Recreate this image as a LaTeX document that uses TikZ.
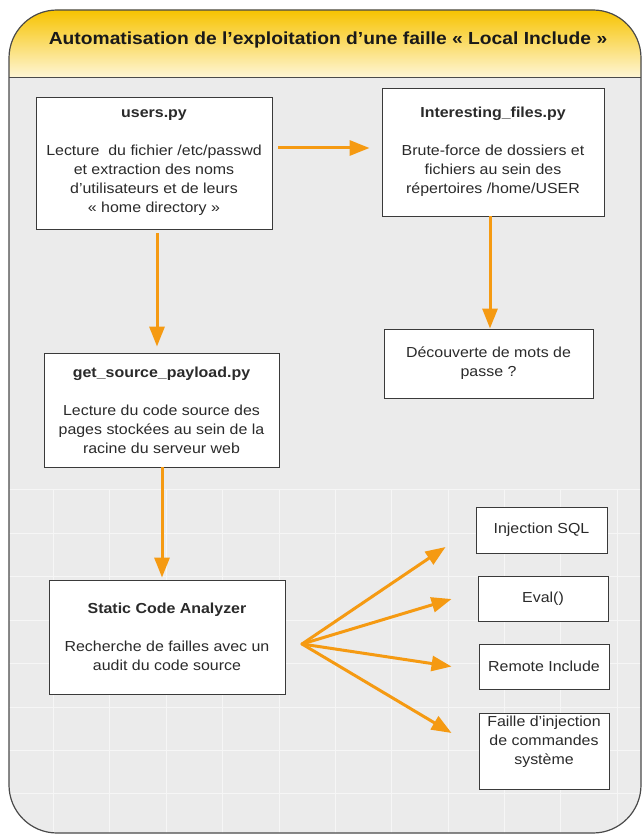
\documentclass[tikz,border=0pt]{standalone}
\usepackage{fontspec}
\setmainfont[FakeStretch=1.1]{Liberation Sans}
\usetikzlibrary{arrows.meta,calc}
\definecolor{arrorange}{HTML}{F59A12}
\definecolor{bggray}{HTML}{EBEBEB}
\definecolor{gridcol}{HTML}{F6F6F6}
\definecolor{framecol}{HTML}{4A4A4A}
\definecolor{titletop}{HTML}{F7C300}
\definecolor{titlebot}{HTML}{FEF6D8}
\definecolor{boxline}{HTML}{3A3A3A}
\definecolor{txt}{HTML}{2A2A2A}
\tikzset{
  boxnode/.style={draw=boxline, fill=white, line width=0.9pt, align=center,
    font=\fontsize{14.5}{19}\selectfont, text=txt, inner sep=0pt},
  arr/.style={draw=arrorange, line width=3pt,
    -{Triangle[length=20pt,width=15pt]}},
  gridline/.style={draw=gridcol, line width=1pt}
}
\begin{document}
\begin{tikzpicture}[x=1pt,y=-1pt]
\useasboundingbox (0,0) rectangle (644,834);
\fill[white] (0,0) rectangle (644,834);
\fill[bggray, rounded corners=48pt] (9,10) rectangle (641,833);
\begin{scope}
  \clip[rounded corners=48pt] (9,10) rectangle (641,833);
  \shade[top color=titletop, bottom color=titlebot] (9,10) rectangle (641,78);
  \foreach \gx in {53,109,166,222,279,335,391,448,504,560,617}
    \draw[gridline] (\gx,489) -- (\gx,833);
  \foreach \gy in {489,533,576,620,663,707,750,793}
    \draw[gridline] (9,\gy) -- (641,\gy);
\end{scope}
\draw[framecol, line width=1pt] (9,78) -- (641,78);
\draw[framecol, line width=1.2pt, rounded corners=48pt] (9,10) rectangle (641,833);

\node[font=\fontsize{17.5}{20}\selectfont\bfseries, text=black!90] (title) at (328,40)
  {Automatisation de l’exploitation d’une faille « Local Include »};

\node[boxnode, minimum width=236pt, minimum height=132pt] (users) at (154,163)
  {\textbf{users.py}\\[19pt]Lecture~ du fichier /etc/passwd\\et extraction des noms\\d'utilisateurs et de leurs\\« home directory »};
\node[boxnode, minimum width=222pt, minimum height=128pt] (inter) at (493,152)
  {\textbf{Interesting\_files.py}\\[19pt]Brute-force de dossiers et\\fichiers au sein des\\répertoires /home/USER};
\node[boxnode, minimum width=209pt, minimum height=69pt] (decouv) at (488.5,363.5)
  {Découverte de mots de\\passe ?};
\node[boxnode, minimum width=235pt, minimum height=114pt] (getsrc) at (161.5,410)
  {\textbf{get\_source\_payload.py}\\[19pt]Lecture du code source des\\pages stockées au sein de la\\racine du serveur web};
\node[boxnode, minimum width=236pt, minimum height=114pt] (static) at (167,637)
  {\textbf{Static Code Analyzer}\\[19pt]Recherche de failles avec un\\audit du code source};
\node[boxnode, minimum width=131pt, minimum height=46pt] (sql) at (541.5,530)
  {Injection SQL};
\node[boxnode, minimum width=130pt, minimum height=45pt] (eval) at (543,598.5)
  {Eval()};
\node[boxnode, minimum width=130pt, minimum height=45pt] (remote) at (544,666.5)
  {Remote Include};
\node[boxnode, minimum width=130pt, minimum height=76pt] (faille) at (544,751)
  {Faille d'injection\\de commandes\\système\\[3pt]};

\coordinate (fan) at (302,644);

\draw[arr] ([xshift=6pt,yshift=15pt]users.east) -- ([xshift=-12pt,yshift=15pt]users.east -| inter.west);
\draw[arr] ([xshift=3pt,yshift=-4pt]users.south) -- ([xshift=3pt,yshift=6pt]users.south |- getsrc.north);
\draw[arr] ([xshift=-3pt]inter.south) -- ([xshift=-3pt]inter.south |- decouv.north);
\draw[arr] ([xshift=0.5pt]getsrc.south) -- ([xshift=0.5pt,yshift=2pt]getsrc.south |- static.north);
\draw[arr, line cap=round] (fan) -- ([xshift=-30pt,yshift=-17pt]sql.west);
\draw[arr, line cap=round] (fan) -- ([xshift=-26pt,yshift=-0.5pt]eval.west);
\draw[arr, line cap=round] (fan) -- ([xshift=-27pt]remote.west);
\draw[arr, line cap=round] (fan) -- ([xshift=-27pt,yshift=18pt]faille.west);
\end{tikzpicture}
\end{document}
